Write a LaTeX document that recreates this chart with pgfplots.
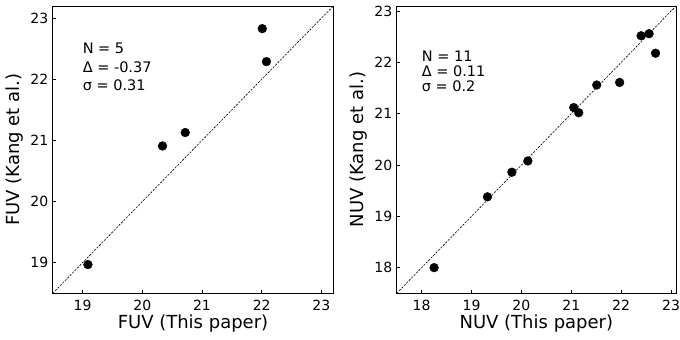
\documentclass[border=0pt]{standalone}
\usepackage{pgfplots}
\pgfplotsset{compat=1.18}
\usepackage{fontspec}
\setmainfont{DejaVu Sans}
\tikzset{ann/.style={anchor=west, inner sep=0pt, font=\fontsize{14.5}{16}\selectfont}}
\begin{document}
\begin{tikzpicture}
\path[use as bounding box] (0,0) rectangle (680pt,340pt);
\pgfplotsset{
  myax/.style={
    scale only axis,
    anchor=south west,
    axis line style={line width=0.8pt},
    tick align=inside,
    xtick pos=left, ytick pos=left,
    major tick length=3.5pt,
    tick style={line width=0.8pt, black},
    /pgf/number format/assume math mode=true,
    ticklabel style={font=\fontsize{14}{16}\selectfont},
    xticklabel style={yshift=-3pt},
    yticklabel style={xshift=-1pt},
    label style={font=\fontsize{18}{20}\selectfont},
    xlabel style={yshift=2pt},
    ylabel style={yshift=0pt},
  },
  pts/.style={only marks, mark=*, mark size=4.4pt, black, mark options={fill=black, draw=black}},
  diag/.style={black, line width=0.6pt, dash pattern=on 2.2pt off 1.3pt, no marks},
}
\begin{axis}[myax,
  at={(52.7pt,46.7pt)}, width=280.6pt, height=287.3pt,
  xmin=18.5, xmax=23.2, ymin=18.5, ymax=23.2,
  xtick={19,20,21,22,23}, ytick={19,20,21,22,23},
  xlabel={FUV (This paper)}, ylabel={FUV (Kang et al.)}]
\addplot[diag] coordinates {(18.5,18.5) (23.2,23.2)};
\addplot[pts] coordinates {
(19.09,18.97)
(20.34,20.91)
(20.72,21.13)
(22.01,22.83)
(22.08,22.29)
};
\node[ann] at (axis cs:19.0,22.51) {N = 5};
\node[ann] at (axis cs:19.0,22.2) {Δ = -0.37};
\node[ann] at (axis cs:19.0,21.91) {σ = 0.31};
\end{axis}
\begin{axis}[myax,
  at={(396.7pt,46.7pt)}, width=279.3pt, height=287.3pt,
  xmin=17.5, xmax=23.1, ymin=17.5, ymax=23.1,
  xtick={18,19,20,21,22,23}, ytick={18,19,20,21,22,23},
  xlabel={NUV (This paper)}, ylabel={NUV (Kang et al.)}]
\addplot[diag] coordinates {(17.5,17.5) (23.1,23.1)};
\addplot[pts] coordinates {
(18.25,18.00)
(19.32,19.38)
(19.81,19.86)
(20.13,20.08)
(21.05,21.12)
(21.15,21.02)
(21.51,21.56)
(21.97,21.61)
(22.40,22.52)
(22.56,22.56)
(22.69,22.18)
};
\node[ann] at (axis cs:18.0,22.12) {N = 11};
\node[ann] at (axis cs:18.0,21.82) {Δ = 0.11};
\node[ann] at (axis cs:18.0,21.53) {σ = 0.2};
\end{axis}
\end{tikzpicture}
\end{document}
